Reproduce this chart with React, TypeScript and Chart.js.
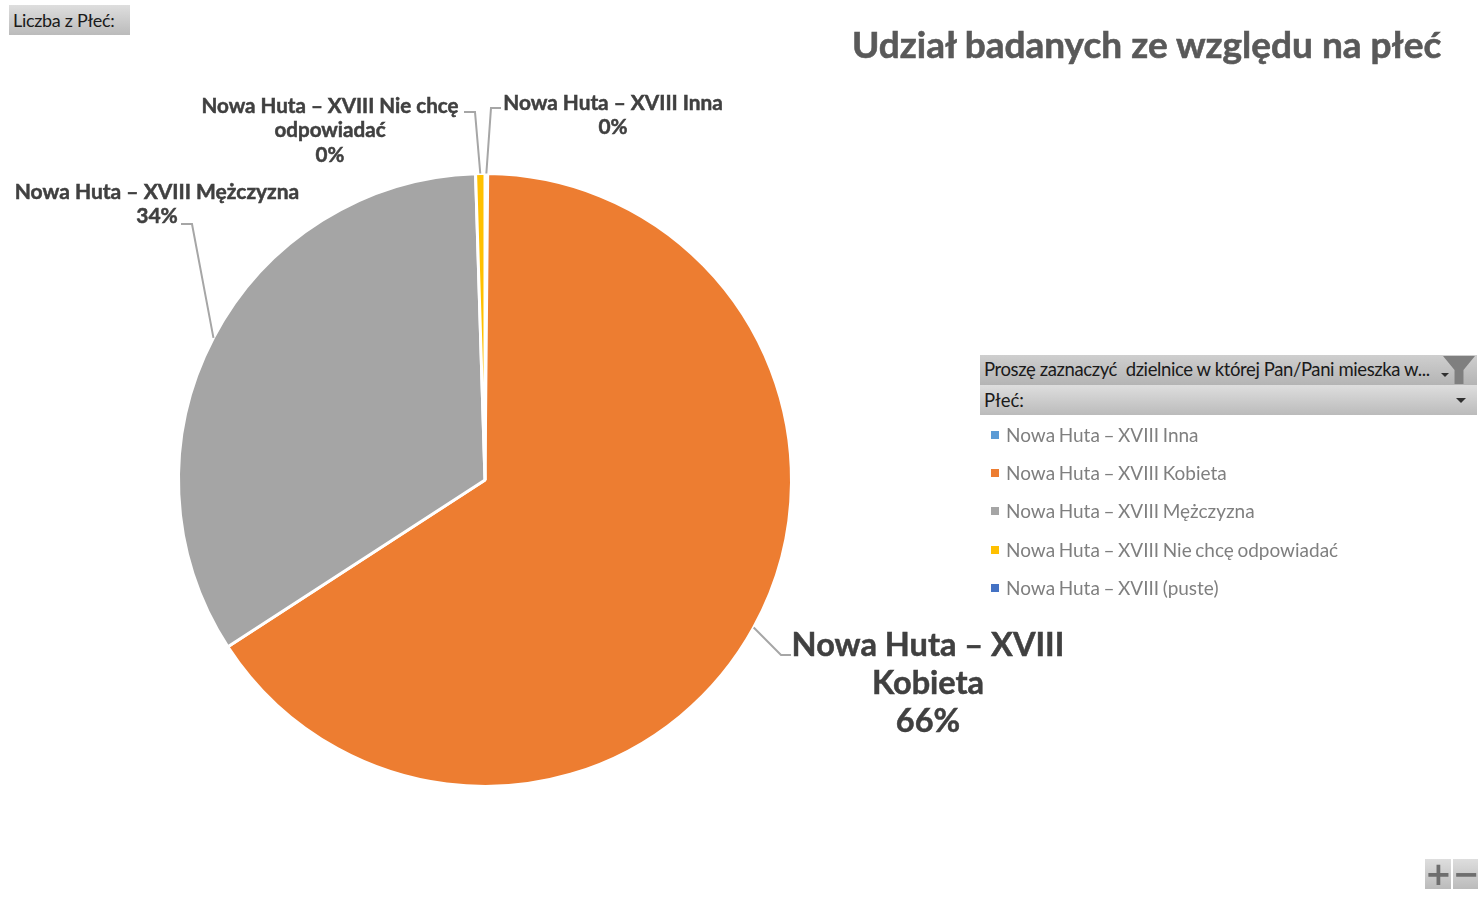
import React, { useEffect, useRef } from "react";
import { Chart, registerables } from "chart.js";

Chart.register(...registerables);

const CHART_TITLE = "Udział badanych ze względu na płeć";
const FIELD_BUTTON = "Liczba z Płeć:";
const FILTER_LABEL = "Proszę zaznaczyć  dzielnice w której Pan/Pani mieszka w...";
const AXIS_LABEL = "Płeć:";

const categories = [
  "Nowa Huta – XVIII Inna",
  "Nowa Huta – XVIII Kobieta",
  "Nowa Huta – XVIII Mężczyzna",
  "Nowa Huta – XVIII Nie chcę odpowiadać",
  "Nowa Huta – XVIII (puste)",
];
const shareValues = [0.14, 65.7, 33.67, 0.49, 0];
const sliceColors = ["#5B9BD5", "#ED7D31", "#A5A5A5", "#FFC000", "#4472C4"];

const calloutLines: (string[] | null)[] = [
  ["Nowa Huta – XVIII Inna"],
  ["Nowa Huta – XVIII", "Kobieta"],
  ["Nowa Huta – XVIII Mężczyzna"],
  ["Nowa Huta – XVIII Nie chcę", "odpowiadać"],
  null,
];

// Placement of each callout: text centre, first-line centre, line step, font size, leader elbow and end
const calloutLayout = [
  { cx: 613, cy: 103, step: 24.5, size: 20.8, elbow: [491, 108], end: [501, 108] },
  { cx: 928, cy: 646, step: 38, size: 32.5, elbow: [781, 655], end: [791, 655] },
  { cx: 157, cy: 192, step: 24.5, size: 21, elbow: [192, 224], end: [181, 224] },
  { cx: 330, cy: 106, step: 24.5, size: 20.6, elbow: [475, 112], end: [464, 112] },
  null,
];

const calloutPlugin = {
  id: "callouts",
  afterDatasetsDraw(chart: any) {
    const { ctx } = chart;
    const arcs = chart.getDatasetMeta(0).data;
    const total = shareValues.reduce((a, b) => a + b, 0);
    ctx.save();
    arcs.forEach((arc: any, i: number) => {
      const layout = calloutLayout[i];
      const lines = calloutLines[i];
      if (!layout || !lines) return;
      const { x, y, startAngle, endAngle, outerRadius } = arc.getProps(
        ["x", "y", "startAngle", "endAngle", "outerRadius"],
        true
      );
      const mid = (startAngle + endAngle) / 2;
      ctx.strokeStyle = "#A6A6A6";
      ctx.lineWidth = 2;
      ctx.beginPath();
      ctx.moveTo(x + Math.cos(mid) * outerRadius, y + Math.sin(mid) * outerRadius);
      ctx.lineTo(layout.elbow[0], layout.elbow[1]);
      ctx.lineTo(layout.end[0], layout.end[1]);
      ctx.stroke();

      ctx.fillStyle = "#404040";
      ctx.strokeStyle = "#404040";
      ctx.lineWidth = 0.5;
      ctx.textAlign = "center";
      ctx.textBaseline = "middle";
      ctx.font = `bold ${layout.size}px Lato`;
      const all = [...lines, `${Math.round((shareValues[i] / total) * 100)}%`];
      all.forEach((t, k) => {
        ctx.fillText(t, layout.cx, layout.cy + k * layout.step);
        ctx.strokeText(t, layout.cx, layout.cy + k * layout.step);
      });
    });
    ctx.restore();
  },
};

const headerBg = "linear-gradient(#DEDEDE, #BBBBBB)";
const abs = (left: number, top: number, width: number, height: number): React.CSSProperties => ({
  position: "absolute",
  left,
  top,
  width,
  height,
});
const legendTops = [435, 473, 511, 550, 588];

export default function App() {
  const ref = useRef<HTMLCanvasElement>(null);
  useEffect(() => {
    const chart = new Chart(ref.current!, {
      type: "pie",
      data: {
        labels: categories,
        datasets: [
          {
            data: shareValues,
            backgroundColor: sliceColors,
            borderColor: "#FFFFFF",
            borderWidth: 3,
          },
        ],
      },
      options: {
        responsive: false,
        animation: false,
        layout: { padding: { left: 177, right: 685, top: 172, bottom: 112 } },
        plugins: { legend: { display: false }, tooltip: { enabled: false }, title: { display: false } },
      },
      plugins: [calloutPlugin],
    });
    return () => chart.destroy();
  }, []);

  return (
    <div
      style={{
        position: "fixed",
        left: 0,
        top: 0,
        width: 1478,
        height: 900,
        overflow: "hidden",
        background: "#FFFFFF",
        fontFamily: "Lato",
      }}
    >
      <canvas ref={ref} width={1478} height={900} style={{ position: "absolute", left: 0, top: 0 }} />

      <div
        style={{
          ...abs(852, 21, 600, 46),
          fontWeight: 700,
          fontSize: 37,
          lineHeight: "46px",
          color: "#595959",
          whiteSpace: "nowrap",
          WebkitTextStroke: "0.6px #595959",
        }}
      >
        {CHART_TITLE}
      </div>

      <div
        style={{
          ...abs(9, 5, 121, 30),
          background: headerBg,
          color: "#1A1A1A",
          fontSize: 18,
          letterSpacing: -0.3,
          lineHeight: "30px",
          paddingLeft: 4,
          boxSizing: "border-box",
          whiteSpace: "nowrap",
        }}
      >
        {FIELD_BUTTON}
      </div>

      <div
        style={{
          ...abs(980, 355, 497, 30),
          background: "linear-gradient(#CFCFCF, #B4B4B4)",
          color: "#1A1A1A",
          fontSize: 18.5,
          letterSpacing: -0.39,
          lineHeight: "29px",
          paddingLeft: 4,
          boxSizing: "border-box",
          whiteSpace: "pre",
        }}
      >
        {FILTER_LABEL}
      </div>
      <div
        style={{
          ...abs(1441, 373, 0, 0),
          borderLeft: "4px solid transparent",
          borderRight: "4px solid transparent",
          borderTop: "4px solid #303030",
        }}
      />
      <div
        style={{
          ...abs(1443, 356, 32, 28),
          background: "#7F7F7F",
          clipPath: "polygon(0 0, 100% 0, 64% 50%, 64% 100%, 36% 100%, 36% 50%)",
        }}
      />

      <div
        style={{
          ...abs(980, 385, 497, 30),
          background: headerBg,
          color: "#1A1A1A",
          fontSize: 18.5,
          lineHeight: "30px",
          paddingLeft: 4,
          boxSizing: "border-box",
        }}
      >
        {AXIS_LABEL}
      </div>
      <div
        style={{
          ...abs(1456, 398, 0, 0),
          borderLeft: "5px solid transparent",
          borderRight: "5px solid transparent",
          borderTop: "5px solid #303030",
        }}
      />

      {categories.map((name, i) => (
        <React.Fragment key={name}>
          <div style={{ ...abs(991, legendTops[i] - 4, 8, 8), background: sliceColors[i] }} />
          <div
            style={{
              ...abs(1006, legendTops[i] - 14, 460, 28),
              color: "#7F7F7F",
              fontSize: 19,
              wordSpacing: -1.3,
              lineHeight: "28px",
              whiteSpace: "nowrap",
            }}
          >
            {name}
          </div>
        </React.Fragment>
      ))}

      {[
        { left: 1425, glyph: "+" },
        { left: 1453, glyph: "−" },
      ].map((b) => (
        <div
          key={b.left}
          style={{
            ...abs(b.left, 859, 26, 30),
            background: headerBg,
            color: "#6E6E6E",
            fontSize: 32,
            fontWeight: 700,
            lineHeight: "30px",
            textAlign: "center",
            fontFamily: "DejaVu Sans",
          }}
        >
          {b.glyph}
        </div>
      ))}
    </div>
  );
}
